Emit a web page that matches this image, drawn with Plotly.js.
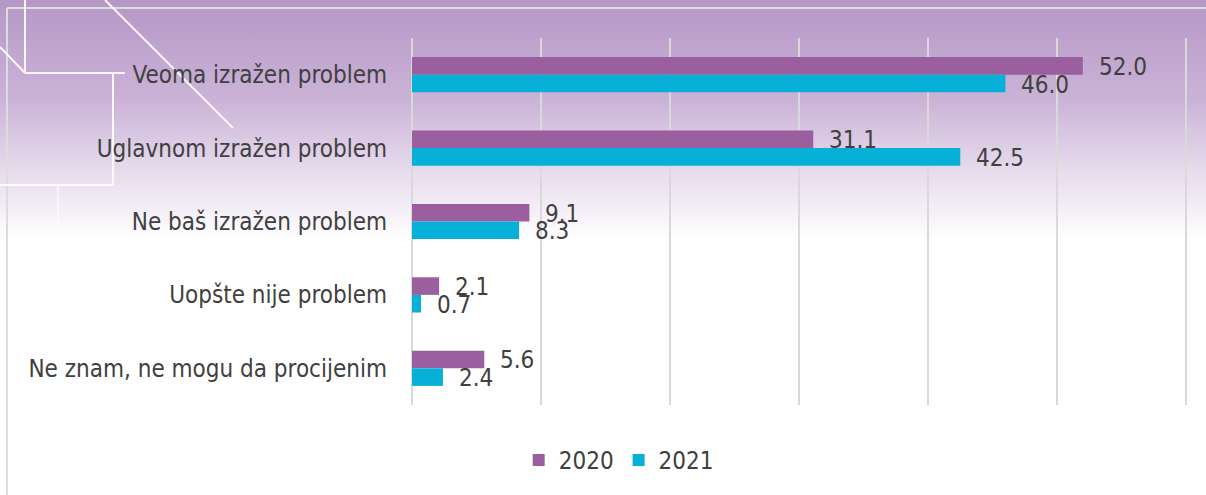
<!DOCTYPE html>
<html>
<head>
<meta charset="utf-8">
<script src="https://cdn.plot.ly/plotly-3.0.1.min.js"></script>
<style>
  html, body { margin:0; padding:0; width:1206px; height:495px; overflow:hidden; }
  body { background: linear-gradient(to bottom, #b597c6 0px, #cbb3d7 100px, #e6dbec 170px, #ffffff 240px, #ffffff 495px); position:relative; }
  #deco { position:absolute; left:0; top:0; width:1206px; height:495px; }
  #chart { position:absolute; left:0; top:0; width:1206px; height:495px; }
</style>
</head>
<body>
<svg id="deco" width="1206" height="495">
  <line x1="7" y1="8" x2="1206" y2="8" stroke="#dcdcdc" stroke-width="2"/>
  <line x1="7" y1="8" x2="7" y2="495" stroke="#dcdcdc" stroke-width="2"/>
  <g stroke="#ffffff" stroke-width="2" fill="none" opacity="0.9">
    <line x1="25" y1="0" x2="25" y2="73"/>
    <line x1="25" y1="73" x2="125" y2="73"/>
    <line x1="0" y1="47" x2="25" y2="73"/>
    <line x1="105" y1="0" x2="233" y2="128"/>
    <line x1="113" y1="73" x2="113" y2="185"/>
    <line x1="0" y1="185" x2="113" y2="185"/>
    <line x1="58" y1="185" x2="58" y2="225" opacity="0.6"/>
  </g>
</svg>
<div id="chart"></div>
<script>
const categories = ["Veoma izražen problem", "Uglavnom izražen problem", "Ne baš izražen problem", "Uopšte nije problem", "Ne znam, ne mogu da procijenim"];
const series2020 = [52.0, 31.1, 9.1, 2.1, 5.6];
const series2021 = [46.0, 42.5, 8.3, 0.7, 2.4];
const seriesNames = ["2020", "2021"];
const colors = ["#9b5fa0", "#07b0d6"];

const FONT = "DejaVu Sans Condensed, Liberation Sans Narrow, sans-serif";
const TXT = "#404040";
const FS = 24;

const n = categories.length;
const ypos = categories.map((c, i) => i);

const traces = [series2020, series2021].map((vals, k) => ({
  type: "bar",
  orientation: "h",
  name: seriesNames[k],
  x: vals,
  y: ypos,
  marker: { color: colors[k] },
  hoverinfo: "skip"
}));

const offs = [-0.12, 0.12];
const annotations = [];
[series2020, series2021].forEach((vals, k) => {
  vals.forEach((v, i) => {
    annotations.push({
      x: v, y: ypos[i] + offs[k], xref: "x", yref: "y",
      text: v.toFixed(1), showarrow: false,
      xanchor: "left", yanchor: "middle", xshift: 14, yshift: -1,
      font: { family: FONT, size: FS, color: TXT }
    });
  });
});

const layout = {
  width: 1206, height: 495,
  margin: { l: 412, r: 18, t: 38, b: 90 },
  paper_bgcolor: "rgba(0,0,0,0)",
  plot_bgcolor: "rgba(0,0,0,0)",
  barmode: "group",
  bargap: 0.52,
  bargroupgap: 0,
  font: { family: FONT, size: FS, color: TXT },
  xaxis: {
    range: [0, 60.15], tick0: 0, dtick: 10, showticklabels: false,
    showgrid: true, gridcolor: "#d9d9d9", gridwidth: 2,
    zeroline: true, zerolinecolor: "#d9d9d9", zerolinewidth: 2,
    fixedrange: true
  },
  yaxis: {
    tickmode: "array", tickvals: ypos, ticktext: categories,
    range: [n - 0.5, -0.5], showgrid: false, zeroline: false,
    ticks: "", ticklabelstandoff: 24,
    tickfont: { family: FONT, size: FS, color: TXT },
    fixedrange: true
  },
  showlegend: true,
  legend: {
    orientation: "h", xref: "container", yref: "container",
    x: 0.513, xanchor: "center", y: 0.07, yanchor: "middle",
    font: { family: FONT, size: FS, color: TXT },
    itemwidth: 30, bgcolor: "rgba(0,0,0,0)"
  },
  annotations: annotations
};

Plotly.newPlot("chart", traces, layout, { displayModeBar: false, staticPlot: true });
</script>
</body>
</html>
